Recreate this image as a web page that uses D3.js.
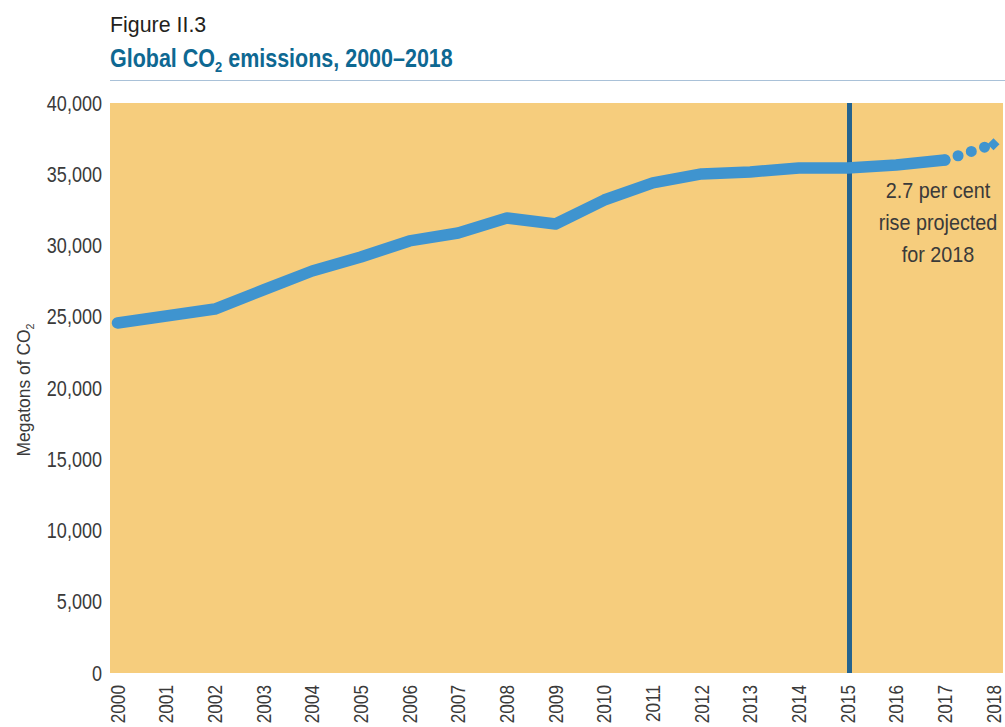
<!DOCTYPE html>
<html>
<head>
<meta charset="utf-8">
<script src="https://cdn.jsdelivr.net/npm/d3@7"></script>
<style>
  html, body { margin: 0; padding: 0; background: #ffffff; }
  svg { display: block; }
  text { font-family: "Liberation Sans", Arial, sans-serif; }
</style>
</head>
<body>
<svg id="chart" width="1005" height="727"></svg>
<script>
// ---- data ----
const years = [2000, 2001, 2002, 2003, 2004, 2005, 2006, 2007, 2008, 2009,
               2010, 2011, 2012, 2013, 2014, 2015, 2016, 2017];
const emissions = [24560, 25050, 25540, 26880, 28210, 29190, 30320, 30880, 31930, 31510,
                   33190, 34390, 35020, 35160, 35440, 35440, 35650, 36000];
const projectedYears = [2017, 2018];
const projectedValues = [36000, 37100];
const yTicks = [0, 5000, 10000, 15000, 20000, 25000, 30000, 35000, 40000];
const xTicks = [2000, 2001, 2002, 2003, 2004, 2005, 2006, 2007, 2008, 2009,
                2010, 2011, 2012, 2013, 2014, 2015, 2016, 2017, 2018];
const markerYear = 2015;
const annotationLines = ["2.7 per cent", "rise projected", "for 2018"];

// ---- layout ----
const svg = d3.select("#chart");
const plot = { left: 110, right: 1003, top: 103, bottom: 673 };

const x = d3.scaleLinear().domain([2000, 2018]).range([117.5, 993.5]);
const y = d3.scaleLinear().domain([0, 40000]).range([plot.bottom, plot.top]);

const textColor = "#3a3a3a";

// titles (condensed look via horizontal scaling)
svg.append("text")
  .attr("transform", "translate(110,32) scale(0.93,1)")
  .attr("font-size", 23).attr("fill", "#231f20").text("Figure II.3");

const t2 = svg.append("text")
  .attr("transform", "translate(110,67) scale(0.86,1)")
  .attr("font-size", 25).attr("font-weight", "bold").attr("fill", "#0e6892");
t2.append("tspan").text("Global CO");
t2.append("tspan").attr("font-size", 15).attr("dy", 5).text("2");
t2.append("tspan").attr("dy", -5).text(" emissions, 2000\u20132018");

svg.append("line").attr("x1", 110).attr("x2", 1005).attr("y1", 80.5).attr("y2", 80.5)
  .attr("stroke", "#a9c1d8").attr("stroke-width", 1.2);

// plot background
svg.append("rect").attr("x", plot.left).attr("y", plot.top)
  .attr("width", plot.right - plot.left).attr("height", plot.bottom - plot.top)
  .attr("fill", "#f6cd7d");

// y axis
const ySc = 0.82;
const yAxis = d3.axisLeft(y).tickValues(yTicks).tickSize(0).tickPadding(0)
  .tickFormat(d3.format(","));
const gy = svg.append("g").attr("transform", `translate(${plot.left - 8},0)`).call(yAxis);
gy.select(".domain").remove();
gy.selectAll("text")
  .attr("font-size", 22).attr("fill", textColor)
  .attr("font-family", '"Liberation Sans", Arial, sans-serif')
  .attr("x", 0)
  .attr("transform", `scale(${ySc},1)`);

// x axis
const xSc = 0.82;
const xAxis = d3.axisBottom(x).tickValues(xTicks).tickSize(0).tickFormat(d3.format("d"));
const gx = svg.append("g").attr("transform", `translate(0,${plot.bottom})`).call(xAxis);
gx.select(".domain").remove();
gx.selectAll("text")
  .attr("font-size", 21).attr("fill", textColor)
  .attr("font-family", '"Liberation Sans", Arial, sans-serif')
  .attr("text-anchor", "end")
  .attr("transform", `rotate(-90) scale(${xSc},1)`)
  .attr("x", -12 / xSc).attr("y", 0).attr("dy", "0.32em");

// y axis title
const yt = svg.append("text")
  .attr("transform", `translate(30,390) rotate(-90) scale(0.97,1)`)
  .attr("text-anchor", "middle").attr("font-size", 18).attr("fill", textColor);
yt.append("tspan").text("Megatons of CO");
yt.append("tspan").attr("font-size", 11).attr("dy", 4).text("2");

// marker line
svg.append("line")
  .attr("x1", x(markerYear) + 2).attr("x2", x(markerYear) + 2)
  .attr("y1", plot.top).attr("y2", plot.bottom)
  .attr("stroke", "#25638f").attr("stroke-width", 5);

// main line
const blue = "#3f94cf";
const lineGen = d3.line().x(d => x(d[0])).y(d => y(d[1]));
svg.append("path")
  .datum(years.map((yr, i) => [yr, emissions[i]]))
  .attr("d", lineGen)
  .attr("fill", "none").attr("stroke", blue).attr("stroke-width", 11.5)
  .attr("stroke-linecap", "round").attr("stroke-linejoin", "round");

// projected dotted segment
const projData = projectedYears.map((yr, i) => [yr, projectedValues[i]]);
svg.append("path")
  .datum(projData)
  .attr("d", lineGen)
  .attr("fill", "none").attr("stroke", blue).attr("stroke-width", 11)
  .attr("stroke-linecap", "round").attr("stroke-dasharray", "0 13.9");

const last = projData[projData.length - 1];
svg.append("path")
  .attr("d", d3.symbol().type(d3.symbolSquare).size(72)())
  .attr("transform", `translate(${x(last[0])},${y(last[1])}) rotate(45)`)
  .attr("fill", blue);

// annotation
const ann = svg.append("text").attr("text-anchor", "middle")
  .attr("transform", "translate(938,0) scale(0.9,1)")
  .attr("font-size", 22).attr("fill", textColor);
annotationLines.forEach((s, i) => {
  ann.append("tspan").attr("x", 0).attr("y", 198 + i * 32).text(s);
});
</script>
</body>
</html>
